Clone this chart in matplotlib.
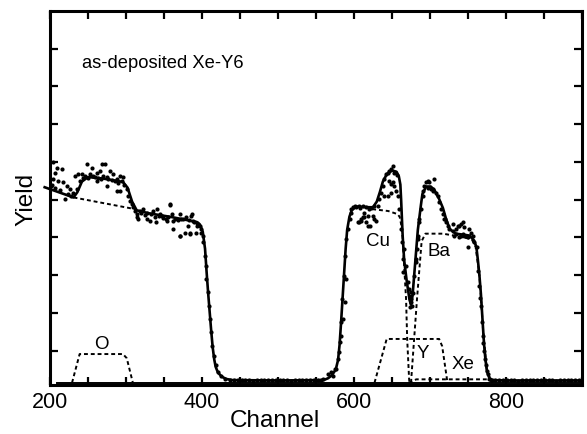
import numpy as np
import matplotlib
matplotlib.use('Agg')
import matplotlib.pyplot as plt

plt.rcParams['font.family'] = ['Liberation Sans', 'DejaVu Sans']

# x ticks every 50 channels, labels only every 200
x_ticks = [200, 250, 300, 350, 400, 450, 500, 550, 600, 650, 700, 750, 800, 850, 900]
x_tick_labels = ['200', '', '', '', '400', '', '', '', '600', '', '', '', '800', '', '']
y_ticks = [1, 2, 3, 4, 5, 6, 7, 8, 9]

# simulated (fit) spectrum, solid line
fit_ch = [193, 231, 236, 242, 250, 270, 296, 302, 308, 314, 330, 360, 393, 397, 401,
          404, 406, 408, 410, 412, 414, 416, 418, 421, 426, 432, 440, 500, 560, 566,
          571, 576, 579, 581, 583, 585, 587, 589, 591, 594, 597, 603, 620, 625, 630,
          634, 638, 643, 648, 651, 656, 659, 661, 662, 664, 666, 669, 673, 675, 677,
          680, 684, 688, 690, 695, 701, 706, 712, 717, 721, 726, 734, 745, 752, 758,
          761, 763, 765, 767, 769, 771, 773, 775, 778, 782, 800, 900]
fit_y = [5.33, 5.06, 5.20, 5.48, 5.60, 5.56, 5.47, 5.32, 4.95, 4.72, 4.64, 4.54, 4.41, 4.35, 4.15,
         3.70, 3.10, 2.55, 2.05, 1.55, 1.10, 0.78, 0.57, 0.42, 0.31, 0.25, 0.22, 0.21, 0.22, 0.27,
         0.35, 0.50, 0.75, 1.15, 1.75, 2.40, 3.05, 3.70, 4.20, 4.55, 4.72, 4.82, 4.80, 4.80, 4.95,
         5.20, 5.48, 5.67, 5.75, 5.77, 5.74, 5.62, 5.40, 5.00, 4.05, 3.40, 2.90, 2.35, 2.22, 2.45,
         3.20, 4.20, 4.85, 5.15, 5.35, 5.35, 5.25, 5.02, 4.78, 4.50, 4.22, 4.10, 4.07, 4.05, 3.92,
         3.75, 3.40, 3.00, 2.50, 1.85, 1.20, 0.75, 0.45, 0.28, 0.22, 0.21, 0.21]

# zero line of the simulation
base_ch = [209, 900]
base_y = [0.15, 0.15]

# substrate background (without O)
bg_ch = [231, 312]
bg_y = [5.06, 4.75]

# element contributions, dashed
o_ch = [229, 239, 296, 301, 309]
o_y = [0.15, 0.91, 0.91, 0.80, 0.15]
cu_ch = [624, 645, 657, 660, 662, 664, 666, 668.5, 670, 672.5, 673]
cu_y = [4.75, 4.70, 4.62, 4.55, 4.35, 4.00, 3.24, 2.37, 1.30, 0.25, 0.15]
y_ch = [627, 643, 712, 716, 723]
y_y = [0.15, 1.31, 1.31, 1.12, 0.15]
ba_ch = [675, 683, 689, 694, 717, 740, 755, 760, 765, 770, 775, 782]
ba_y = [0.15, 2.40, 3.90, 4.10, 4.10, 4.02, 3.95, 3.75, 3.00, 1.50, 0.45, 0.15]
xe_ch = [672, 682, 775, 785]
xe_y = [0.15, 0.24, 0.24, 0.15]

# measured points: substrate region
sub_ch = [204.4, 208.8, 206.6, 215.4, 204.4, 211, 217.5, 219.8, 222, 226.3, 230.7, 232.9, 237.3,
          241.7, 235, 248.2, 254.8, 268, 272.3, 261.4, 265.7, 278.9, 283.3, 252.6, 257, 274.5,
          287.6, 292, 296.4, 294.2, 261.4, 274.5, 287.6, 292,
          201, 203, 207, 213, 224, 228, 239, 244, 246, 250, 259, 263, 267, 270, 276, 281, 285, 290, 298,
          300.8, 303, 305.2, 307.3, 309.5, 311.7, 313.9, 316.1,
          318.3, 322.7, 327, 331.4, 335.8, 340.2, 344.6, 346.8, 357.7, 359.9, 362.1, 370.9, 375.2,
          379.6, 386.2, 381.8, 370.9, 384, 388.4, 392.8, 397.1, 399.3, 401.5, 313.9, 327, 340,
          353.3, 362, 370.8, 377.4, 386, 357.6,
          320, 325, 333, 338, 343, 349, 352, 355, 365, 368, 373, 383, 390, 394,
          401.4, 403.6, 404.9, 405.8, 408, 409.3, 411, 412.4, 413.7, 415.4, 418.1, 421.1, 425.5,
          429.9, 436.4, 399.2, 383.9, 392.7]
sub_y = [5.99, 5.85, 5.72, 5.81, 5.55, 5.50, 5.46, 5.02, 5.37, 5.28, 5.19, 5.63, 5.68,
         5.68, 5.28, 5.94, 5.85, 5.94, 5.94, 5.72, 5.77, 5.77, 5.68, 5.68, 5.63, 5.59,
         5.55, 5.63, 5.59, 5.50, 5.50, 5.37, 5.24, 5.24,
         5.35, 5.40, 5.30, 5.25, 5.15, 5.10, 5.50, 5.58, 5.62, 5.58, 5.60, 5.58, 5.55, 5.62, 5.55, 5.52, 5.50, 5.45, 5.40,
         5.28, 5.11, 4.97, 4.88, 4.80, 4.71, 4.62, 4.49,
         4.71, 4.75, 4.66, 4.44, 4.71, 4.75, 4.62, 4.58, 4.88, 4.62, 4.44, 4.62, 4.49,
         4.53, 4.62, 4.31, 4.05, 4.09, 4.44, 4.31, 4.31, 4.22, 4.05, 4.53, 4.49, 4.40,
         4.44, 4.22, 4.04, 4.13, 4.57, 4.86,
         4.65, 4.60, 4.62, 4.55, 4.58, 4.52, 4.50, 4.55, 4.50, 4.45, 4.50, 4.45, 4.40, 4.38,
         3.87, 3.52, 3.25, 2.90, 2.55, 2.19, 1.84, 1.49, 1.13, 0.87, 0.61, 0.43, 0.34,
         0.25, 0.21, 4.13, 4.13, 4.13]

# measured points: empty gap between substrate edge and film
gap_ch = [442, 447, 452, 457, 462, 467, 472, 477, 482, 487, 492, 497, 502, 507, 512, 517,
          522, 527, 532, 537, 542, 547, 552, 556]
gap_y = [0.22, 0.21, 0.23, 0.21, 0.22, 0.20, 0.22, 0.23, 0.21, 0.22, 0.21, 0.23, 0.22, 0.21,
         0.22, 0.20, 0.22, 0.23, 0.21, 0.22, 0.23, 0.22, 0.21, 0.23]

# measured points: film (Cu, Y, Ba, Xe)
film_ch = [559.1, 565.7, 570, 572.2, 574.4, 576.6,
           578.8, 580.9, 581, 583.1, 583.2, 585.3, 584.5, 587.5, 586.2, 589.7, 587.6, 589.7,
           592, 594.1, 596.3, 596.6,
           598.5, 600.7, 602.8, 607.2, 611.6, 616, 620.3, 607.3, 613.8, 618.2, 611.6, 616, 620.4,
           609.4, 605, 609.4, 607.2, 613.8, 618.2, 624.7, 626.9, 629.1, 622, 626,
           631.3, 633.5, 635.7, 637.9, 640.1, 642.2, 644.4, 646.6, 648.8, 651, 646.6, 648.8, 651,
           653.2, 648.8, 644.4, 640.1, 655.4, 657.6, 653, 656, 659.8, 662, 663.3, 664.1, 665,
           666.4, 668.6, 670.8, 672.9, 673.8, 675.1, 676.5, 677.3, 679.5, 681.7, 683.9, 686.1,
           675.1, 675.1, 674,
           681.7, 682.5, 683.8, 686, 688.2, 690.4,
           690.5, 692.6, 697, 699.2, 694.8, 697, 703.6, 705.8, 701.4, 703.5, 708, 710.2, 712.4,
           714.5, 716.7, 720.2, 723.3, 725.5, 718.9, 721.1,
           729.9, 734.2, 736.4, 740.8, 745.2, 751.8, 754, 756.1, 749.6, 743, 747.4, 729.8, 743,
           738.6, 734.2, 738.6, 745.1, 732, 740.8, 749.6, 758.3, 761.4,
           762.7, 764.9, 766.2, 767, 768.4, 769.2, 770.3, 771.4, 772.5, 773.6, 774.5, 775.8, 778, 781]
film_y = [0.25, 0.38, 0.43, 0.34, 0.52, 0.52,
          0.78, 0.96, 1.22, 1.40, 1.75, 1.84, 2.37, 2.28, 2.99, 2.90, 3.52, 3.96,
          4.22, 4.49, 4.66, 4.75,
          4.80, 4.84, 4.80, 4.84, 4.82, 4.80, 4.75, 4.79, 4.66, 4.57, 4.53, 4.40, 4.31,
          4.44, 4.40, 4.49, 4.40, 4.53, 4.31, 4.58, 4.49, 4.44, 4.78, 4.82,
          4.84, 5.02, 5.19, 5.37, 5.55, 5.68, 5.72, 5.77, 5.81, 5.90, 5.50, 5.41, 5.46,
          5.37, 5.19, 5.10, 5.10, 5.24, 5.10, 5.70, 5.65, 4.75, 4.22, 3.87, 3.43, 3.08,
          3.69, 3.25, 2.81, 2.63, 2.46, 2.37, 2.19, 2.54, 2.99, 3.43, 3.96, 4.49,
          2.28, 2.55, 2.15,
          3.34, 3.69, 4.05, 4.40, 4.75, 5.10,
          5.24, 5.37, 5.32, 5.46, 5.46, 5.50, 5.28, 5.56, 5.28, 5.24, 5.19, 5.10, 4.93,
          4.75, 4.62, 4.49, 4.31, 4.22, 4.49, 4.40,
          4.18, 4.22, 4.31, 4.35, 4.27, 4.22, 4.13, 4.05, 3.74, 4.09, 4.05, 4.35, 4.40,
          4.31, 4.09, 4.00, 4.05, 4.05, 4.05, 4.00, 3.87, 3.74,
          3.10, 2.70, 2.40, 2.19, 1.75, 1.40, 1.20, 1.00, 0.78, 0.61, 0.45, 0.37, 0.25, 0.23]

# measured points: beyond the film edge
tail_ch = [786, 791, 796, 801, 806, 811, 816, 821, 826, 831, 836, 841, 846, 851, 856, 861,
           866, 871, 876, 881, 886, 891, 896]
tail_y = [0.22, 0.21, 0.23, 0.22, 0.21, 0.22, 0.20, 0.22, 0.23, 0.21, 0.22, 0.21, 0.22, 0.23,
          0.21, 0.22, 0.20, 0.22, 0.21, 0.23, 0.22, 0.21, 0.22]

# element labels
elem_names = ['O', 'Cu', 'Ba', 'Y', 'Xe']
elem_x = [268, 631, 712, 690, 743]
elem_y = [1.18, 3.91, 3.65, 0.96, 0.65]

dash_style = dict(color='black', linewidth=1.4, linestyle=(0, (2.0, 1.5)))

fig = plt.figure(figsize=(5.87, 4.35), dpi=100)
ax = fig.add_axes([50 / 587, 1 - 386 / 435, 532 / 587, 374 / 435])

ax.plot(base_ch, base_y, color='black', linewidth=1.4)
ax.plot(bg_ch, bg_y, **dash_style)
for xs, ys in [(o_ch, o_y), (cu_ch, cu_y), (y_ch, y_y), (ba_ch, ba_y), (xe_ch, xe_y)]:
    ax.plot(xs, ys, **dash_style)

for xs, ys in [(sub_ch, sub_y), (gap_ch, gap_y), (film_ch, film_y), (tail_ch, tail_y)]:
    ax.plot(xs, ys, 'o', color='black', markersize=3.0, markeredgewidth=0)

ax.plot(fit_ch, fit_y, color='black', linewidth=1.9, clip_on=False)

for name, x, y in zip(elem_names, elem_x, elem_y):
    ax.text(x, y, name, fontsize=13.5, ha='center', va='center')

ax.text(241.6, 8.63, 'as-deposited Xe-Y6', fontsize=13.2, ha='left', va='center')

ax.set_xlim(200, 900)
ax.set_ylim(0.09, 10.0)
ax.set_xticks(x_ticks)
ax.set_xticklabels(x_tick_labels)
ax.set_yticks(y_ticks)
ax.set_yticklabels([])
ax.tick_params(direction='in', length=6, width=1.6, top=True, right=True, labelsize=15.5, pad=4)
for s in ax.spines.values():
    s.set_linewidth(2.2)

ax.set_xlabel('Channel', fontsize=17.5)
ax.xaxis.set_label_coords(0.423, -0.065)
ax.set_ylabel('Yield', fontsize=17.5, labelpad=5)

plt.savefig('out.png', dpi=100)
